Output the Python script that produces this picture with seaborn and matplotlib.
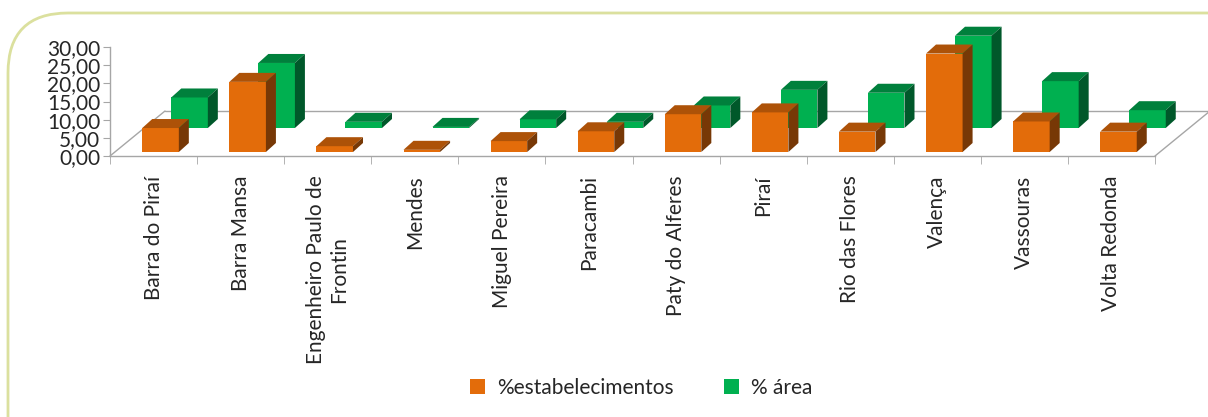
import numpy as np
import pandas as pd
import seaborn as sns
import matplotlib.pyplot as plt
from matplotlib.patches import Polygon, FancyBboxPatch
from matplotlib.lines import Line2D
from matplotlib.ticker import FixedLocator, FuncFormatter
from matplotlib.transforms import IdentityTransform

# data
municipios = ['Barra do Piraí', 'Barra Mansa', 'Engenheiro Paulo de\nFrontin', 'Mendes',
              'Miguel Pereira', 'Paracambi', 'Paty do Alferes', 'Piraí', 'Rio das Flores',
              'Valença', 'Vassouras', 'Volta Redonda']
estabelecimentos = [6.6, 19.3, 1.6, 0.6, 3.0, 5.7, 10.4, 10.9, 5.6, 27.1, 8.4, 5.6]
area = [8.4, 17.9, 1.7, 0.3, 2.4, 1.7, 6.2, 10.5, 9.7, 25.4, 12.9, 4.9]
series = ['%estabelecimentos', '% área']

df = pd.DataFrame({'municipio': municipios * 2,
                   'valor': estabelecimentos + area,
                   'serie': [series[0]] * 12 + [series[1]] * 12})

# front / top / side shades
shades = {series[0]: ('#e36c0a', '#ad5208', '#773806'),
          series[1]: ('#00b050', '#00803c', '#00582a')}
grey = '#a6a6a6'

sns.set_style('white')
plt.rcParams['font.family'] = ['Lato', 'DejaVu Sans']

W, H = 1208, 417
fig = plt.figure(figsize=(W / 100, H / 100), dpi=100)
ax_w, ax_h = 1045, 109
ax = fig.add_axes([110 / W, (H - 156) / H, ax_w / W, ax_h / H])

sns.barplot(data=df, x='municipio', y='valor', hue='serie', dodge=False, width=0.42,
            palette={s: shades[s][0] for s in series}, hue_order=series,
            saturation=1, ax=ax, linewidth=0)
ax.set_xlim(-0.5, 11.5)
ax.set_ylim(0, 30)

# pixel -> data factors
kx = 12 / ax_w
ky = 30 / ax_h

# depth placement: (right px, up px) of each series, plus face depth
place = {series[0]: (7, 4, 5), series[1]: (36, 28, 3)}
dpx, dpy = 10, 9

for cont, s in zip(ax.containers, series):
    ox, oy, z = place[s]
    front, top, side = shades[s]
    for p in cont.patches:
        x0 = p.get_x() + ox * kx
        y0 = oy * ky
        w = p.get_width()
        h = p.get_height()
        p.set_x(x0)
        p.set_y(y0)
        p.set_zorder(z)
        p.set_clip_on(False)
        x1, y1 = x0 + w, y0 + h
        ddx, ddy = dpx * kx, dpy * ky
        ax.add_patch(Polygon([(x0, y1), (x1, y1), (x1 + ddx, y1 + ddy), (x0 + ddx, y1 + ddy)],
                             closed=True, fc=top, ec='none', zorder=z, clip_on=False))
        ax.add_patch(Polygon([(x1, y0), (x1, y1), (x1 + ddx, y1 + ddy), (x1 + ddx, y0 + ddy)],
                             closed=True, fc=side, ec='none', zorder=z, clip_on=False))

# floor outline
fx, fy = 55 * kx, 45 * ky
for xs, ys in [([-0.5, -0.5 + fx], [0, fy]),
               ([-0.5 + fx, 11.5 + fx], [fy, fy]),
               ([11.5, 11.5 + fx], [0, fy])]:
    ax.add_line(Line2D(xs, ys, color=grey, lw=1, zorder=1, clip_on=False))

sns.despine(ax=ax)
for sp in ['left', 'bottom']:
    ax.spines[sp].set_color(grey)
    ax.spines[sp].set_linewidth(1)

ax.set_xlabel('')
ax.set_ylabel('')
ax.set_yticks(np.arange(0, 31, 5))
ax.yaxis.set_major_formatter(FuncFormatter(lambda v, _: f'{v:.2f}'.replace('.', ',')))
ax.tick_params(axis='y', labelsize=15, length=5, color=grey, pad=2, left=True)
ax.xaxis.set_minor_locator(FixedLocator(np.arange(-0.5, 12, 1)))
ax.tick_params(axis='x', which='minor', length=6, color=grey, bottom=True)
ax.tick_params(axis='x', which='major', length=0, pad=14, labelsize=15)
for lab in ax.get_xticklabels():
    lab.set_rotation(90)
    lab.set_ha('center')
    lab.set_va('top')
    lab.set_multialignment('center')

handles, labels = ax.get_legend_handles_labels()
ax.get_legend().remove()
fig.legend(handles, labels, loc='center', bbox_to_anchor=(0.531, 0.07), ncol=2,
           frameon=False, fontsize=15, handlelength=0.7, handleheight=0.7,
           handletextpad=0.6, columnspacing=2.4)

# rounded frame of the chart area
fig.add_artist(FancyBboxPatch((8, -60), 1260, H - 13 + 60, boxstyle='round,pad=0,rounding_size=60',
                              transform=IdentityTransform(), fc='none', ec='#dbe09e', lw=2))

fig.savefig('out.png', dpi=100)
